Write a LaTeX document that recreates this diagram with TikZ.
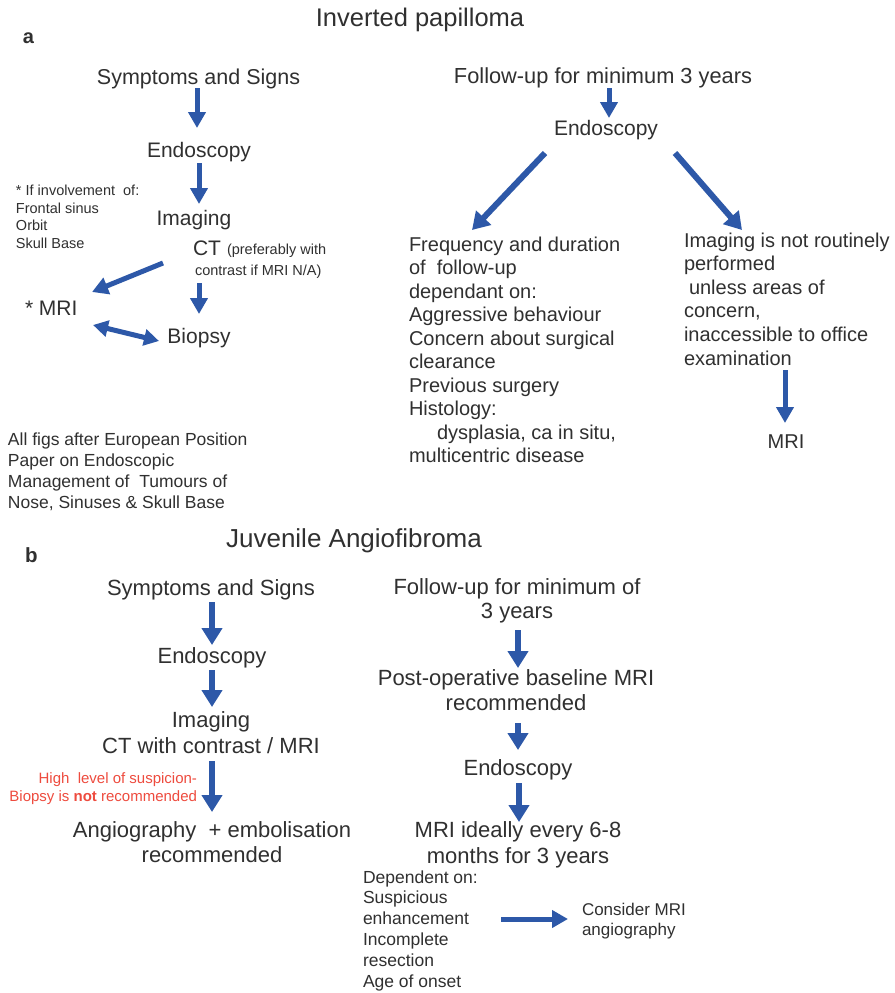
\documentclass[tikz,border=0pt]{standalone}
\usepackage{fontspec}
\setmainfont{Liberation Sans}
\usetikzlibrary{arrows.meta,calc}
\definecolor{txt}{HTML}{303030}
\definecolor{arrblue}{HTML}{2D58A8}
\definecolor{redtxt}{HTML}{EE4B3E}
\newcommand\myfs[2]{\fontsize{#1}{#2}\selectfont}
\begin{document}
\begin{tikzpicture}[x=1pt,y=-1pt,
  every node/.style={inner sep=0pt, outer sep=0pt, text=txt},
  lbl/.style={anchor=base},
  lblw/.style={anchor=base west, align=left},
  arrA/.style={draw=arrblue, line width=5pt, -{Triangle[width=17pt,length=16pt]}},
  arrB/.style={draw=arrblue, line width=6pt, -{Triangle[width=20pt,length=17pt]}},
  darr/.style={draw=arrblue, line width=5pt, {Triangle[width=16pt,length=15pt]}-{Triangle[width=16pt,length=15pt]}}]
\useasboundingbox (0,0) rectangle (894,993);
\fill[white] (0,0) rectangle (894,993);

% ---------- Part a ----------
\node[lbl, font=\myfs{25.5}{28}] (titleA) at (420,27) {Inverted papilloma};
\node[anchor=base west, font=\myfs{20}{24}\bfseries] (labA) at (23,43) {a};

% left column
\node[lbl, font=\myfs{21.5}{25}] (symA) at (198.5,84) {Symptoms and Signs};
\node[lbl, font=\myfs{21}{25}] (endoA) at (199,157) {Endoscopy};
\node[lbl, font=\myfs{21}{25}] (imgA) at (194,225) {Imaging};
\node[anchor=base west, font=\myfs{21}{25}] (ctA) at (193,255) {CT};
\node[anchor=base west, font=\myfs{14.5}{18}] (ctnoteA) at (227,254) {(preferably with};
\node[anchor=base west, font=\myfs{14.5}{18}] (ctnoteB) at (195,275) {contrast if MRI N/A)};
\node[anchor=base west, font=\myfs{21}{25}] (mriA) at (25,315) {* MRI};
\node[lbl, font=\myfs{21}{25}] (bioA) at (199,343) {Biopsy};
\node[lblw, font=\myfs{14.5}{17.4}] (noteA) at (16,248)
  {* If involvement\ \ of:\\Frontal sinus\\Orbit\\Skull Base};
\node[lblw, font=\myfs{17.5}{21}] (refA) at (8,508)
  {All figs after European Position\\Paper on Endoscopic\\Management of\ \ Tumours of\\Nose, Sinuses \& Skull Base};

% right column
\node[lbl, font=\myfs{21.8}{25}] (fuA) at (603,83) {Follow-up for minimum 3 years};
\node[lbl, font=\myfs{21}{25}] (endoA2) at (606,135) {Endoscopy};
\node[lblw, font=\myfs{20}{23.5}] (freqA) at (409,462.5)
  {Frequency and duration\\of\ \ follow-up\\dependant on:\\Aggressive behaviour\\Concern about surgical\\clearance\\Previous surgery\\Histology:\\\hspace*{28pt}dysplasia, ca in situ,\\multicentric disease};
\node[lblw, font=\myfs{20}{23.6}] (imgnotA) at (684,365)
  {Imaging is not routinely\\performed\\\hspace*{5pt}unless areas of\\concern,\\inaccessible to office\\examination};
\node[lbl, font=\myfs{20}{24}] (mriA2) at (786,448) {MRI};

% arrows a
\draw[arrA] ($(symA.base)+(-1.5,4)$) -- ($(endoA.base)+(-2,-29)$);
\draw[arrA] ($(endoA.base)+(0,6)$) -- ($(imgA.base)+(5,-21)$);
\draw[arrA] ($(ctA.base west)+(-30,8)$) -- ($(mriA.base west)+(67,-23)$);
\draw[arrA] ($(ctA.base west)+(6,28)$) -- ($(bioA.base)+(0,-29)$);
\draw[darr] ($(mriA.base west)+(68,10)$) -- ($(bioA.base)+(-40,-2)$);
\draw[arrA] ($(fuA.base)+(6,5)$) -- ($(endoA2.base)+(3,-17)$);
\draw[arrB] ($(endoA2.base)+(-61,18)$) -- ($(freqA.base west)+(63,-232.5)$);
\draw[arrB] ($(endoA2.base)+(69,18)$) -- ($(imgnotA.base west)+(58,-135)$);
\draw[arrA] ($(imgnotA.base west)+(101,5)$) -- ($(mriA2.base)+(-1,-25)$);

% ---------- Part b ----------
\node[lbl, font=\myfs{26}{30}] (titleB) at (354,547) {Juvenile Angiofibroma};
\node[anchor=base west, font=\myfs{20.5}{24}\bfseries] (labB) at (25,562) {b};

% left column
\node[lbl, font=\myfs{22}{26}] (symB) at (211,595) {Symptoms and Signs};
\node[lbl, font=\myfs{22}{26}] (endoB) at (212,663) {Endoscopy};
\node[lbl, align=center, font=\myfs{22}{26}] (imgB) at (211,753) {Imaging\\CT with contrast / MRI};
\node[anchor=base east, align=right, font=\myfs{15}{18}, text=redtxt] (redB) at (197,801)
  {High\ \ level of suspicion-\\Biopsy is \textbf{not} recommended};
\node[lbl, align=center, font=\myfs{22}{25}] (angB) at (212,862) {Angiography\ \ + embolisation\\recommended};

% right column
\node[lbl, align=center, font=\myfs{22}{23.5}] (fuB) at (517,618) {Follow-up for minimum of\\3 years};
\node[lbl, align=center, font=\myfs{22}{25}] (postB) at (516,710) {Post-operative baseline MRI\\recommended};
\node[lbl, font=\myfs{22}{26}] (endoB2) at (518,775) {Endoscopy};
\node[lbl, align=center, font=\myfs{22}{26}] (mriB) at (518,863) {MRI ideally every 6-8\\months for 3 years};
\node[lblw, font=\myfs{17.5}{20.8}] (depB) at (363,987)
  {Dependent on:\\Suspicious\\enhancement\\Incomplete\\resection\\Age of onset};
\node[lblw, font=\myfs{17}{20}] (conB) at (582,935) {Consider MRI\\angiography};

% arrows b
\draw[arrB] ($(symB.base)+(1,7)$) -- ($(endoB.base)+(0,-18)$);
\draw[arrB] ($(endoB.base)+(0,7)$) -- ($(imgB.base)+(1,-46)$);
\draw[arrB] ($(imgB.base)+(1,8)$) -- ($(angB.base)+(0,-50)$);
\draw[arrB] ($(fuB.base)+(1,12)$) -- ($(postB.base)+(2,-42)$);
\draw[arrB] ($(postB.base)+(2,13)$) -- ($(endoB2.base)+(0,-25)$);
\draw[arrB] ($(endoB2.base)+(1,8)$) -- ($(mriB.base)+(1,-41)$);
\draw[arrA] ($(depB.base west)+(138,-68)$) -- ($(conB.base west)+(-14,-16)$);
\end{tikzpicture}
\end{document}
